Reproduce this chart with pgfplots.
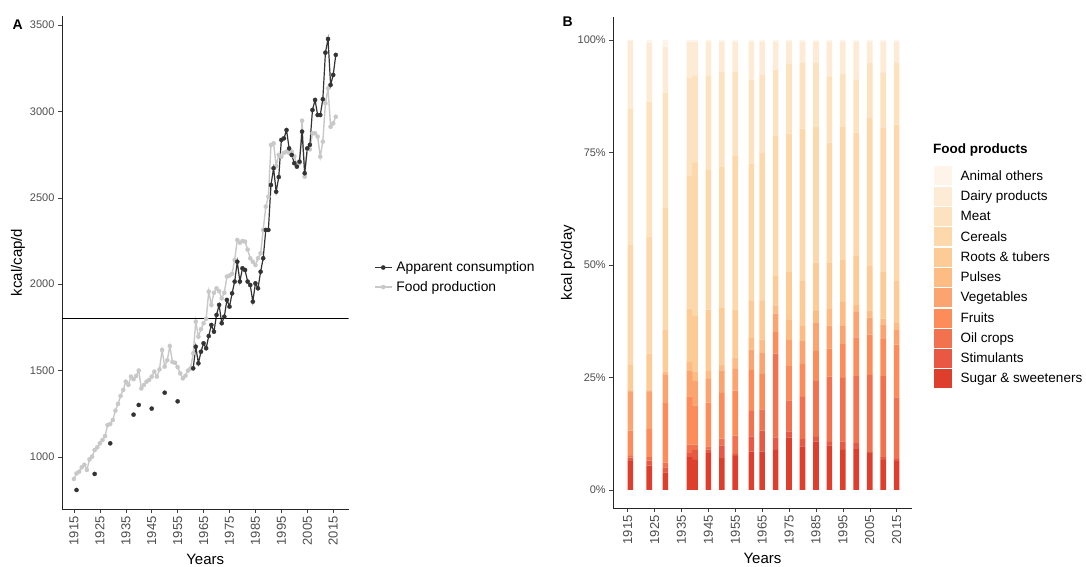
\documentclass[border=0pt]{standalone}
\usepackage{pgfplots}
\usepackage{pgfplotstable}
\pgfplotsset{compat=1.18}
\usepackage{fontspec}
\setmainfont{Liberation Sans}

\definecolor{tickgrey}{RGB}{77,77,77}
\definecolor{cons}{RGB}{51,51,51}
\definecolor{prod}{RGB}{200,200,200}
\definecolor{cA}{HTML}{FEF4E9}
\definecolor{cD}{HTML}{FDEBD6}
\definecolor{cM}{HTML}{FDE2C0}
\definecolor{cC}{HTML}{FDD8AA}
\definecolor{cR}{HTML}{FDCB95}
\definecolor{cP}{HTML}{FDBC83}
\definecolor{cV}{HTML}{FCA46F}
\definecolor{cF}{HTML}{FC8C59}
\definecolor{cO}{HTML}{F2714E}
\definecolor{cT}{HTML}{E85843}
\definecolor{cS}{HTML}{DE3F2C}

\pgfplotstableread{
year S T O F V P R C M D A
1916 6.4 0.8 0.4 5.6 8.6 0.5 5.6 26.7 30.2 15.0 0.2
1923 5.4 1.1 0.8 6.3 8.2 0.5 8.0 25.9 30.1 13.0 0.7
1929 3.9 1.1 1.1 13.2 6.3 0.7 9.4 27.1 25.5 10.1 1.6
1938 7.3 0.9 1.9 10.7 5.6 2.0 11.9 29.5 21.9 7.8 0.5
1940 6.7 2.2 1.2 8.7 5.4 2.1 12.4 34.0 19.3 7.6 0.4
1945 8.2 0.8 0.7 9.7 5.3 1.7 13.7 31.0 21.0 7.5 0.4
1950 7.1 2.8 1.5 10.2 5.0 1.3 12.5 31.5 21.0 6.7 0.4
1955 7.6 0.4 4.1 10.0 4.8 2.5 10.7 34.1 18.8 6.6 0.4
1961 8.5 3.4 5.7 9.1 4.5 2.6 8.2 30.5 18.7 8.4 0.4
1965 8.5 4.7 4.7 7.9 4.6 3.0 8.6 33.0 17.2 7.4 0.4
1970 8.9 2.8 18.6 4.8 4.1 1.8 6.7 31.1 14.6 6.2 0.4
1975 11.7 1.3 6.9 7.6 5.8 4.5 10.6 30.8 15.6 4.9 0.3
1980 9.7 1.6 9.4 7.3 5.1 3.3 10.0 33.9 14.7 4.6 0.4
1985 10.8 1.0 12.4 6.7 6.2 2.7 10.8 30.1 14.2 4.7 0.4
1990 9.9 0.8 14.5 6.2 5.1 3.7 10.4 26.6 14.6 7.8 0.4
1995 8.9 1.9 14.1 7.5 4.2 5.2 9.3 29.7 11.6 7.2 0.4
2000 9.1 1.3 14.9 8.6 5.7 1.5 10.9 27.4 11.7 8.5 0.4
2005 8.2 0.2 17.2 8.9 3.8 1.6 10.0 32.8 12.2 4.7 0.4
2010 6.7 0.6 18.0 8.2 3.3 1.3 10.3 32.0 12.3 6.9 0.4
2015 6.4 0.5 13.7 11.7 3.2 1.6 9.5 34.6 13.8 4.6 0.4
}\shares

\pgfplotstableread{
year v
1915 873
1916 905
1917 915
1918 940
1919 955
1920 925
1921 986
1922 1002
1923 1040
1924 1056
1925 1079
1926 1098
1927 1121
1928 1185
1929 1191
1930 1214
1931 1268
1932 1307
1933 1353
1934 1388
1935 1436
1936 1417
1937 1465
1938 1450
1939 1469
1940 1500
1941 1397
1942 1417
1943 1436
1944 1446
1945 1465
1946 1494
1947 1465
1948 1507
1949 1619
1950 1523
1951 1560
1952 1642
1953 1550
1954 1545
1955 1520
1956 1484
1957 1455
1958 1470
1959 1500
1960 1513
1961 1600
1962 1783
1963 1696
1964 1740
1965 1774
1966 1800
1967 1957
1968 1880
1969 1950
1970 1976
1971 1960
1972 1918
1973 1950
1974 2044
1975 2050
1976 2060
1977 2140
1978 2256
1979 2240
1980 2250
1981 2246
1982 2200
1983 2150
1984 2130
1985 2111
1986 2150
1987 2179
1988 2314
1989 2449
1990 2506
1991 2806
1992 2815
1993 2684
1994 2748
1995 2738
1996 2760
1997 2767
1998 2760
1999 2767
2000 2740
2001 2690
2002 2700
2003 2946
2004 2622
2005 2781
2006 2780
2007 2873
2008 2873
2009 2854
2010 2738
2011 2825
2012 3047
2013 3133
2014 2911
2015 2931
2016 2969
}\production

\pgfplotstableread{
year v
1961 1513
1962 1638
1963 1542
1964 1609
1965 1658
1966 1629
1967 1700
1968 1764
1969 1725
1970 1822
1971 1880
1972 1774
1973 1812
1974 1909
1975 1870
1976 1947
1977 2015
1978 2130
1979 2015
1980 2092
1981 2082
1982 2015
1983 1995
1984 1899
1985 2005
1986 1976
1987 2072
1988 2150
1989 2314
1990 2314
1991 2574
1992 2671
1993 2535
1994 2620
1995 2835
1996 2844
1997 2892
1998 2786
1999 2748
2000 2700
2001 2680
2002 2709
2003 2883
2004 2642
2005 2786
2006 2806
2007 3008
2008 3066
2009 2979
2010 2979
2011 3070
2012 3340
2013 3419
2014 3153
2015 3211
2016 3327
}\consumption

\pgfplotstableread{
year v
1916 809
1923 902
1929 1079
1938 1245
1940 1301
1945 1280
1950 1372
1955 1322
}\earlycons

\pgfplotsset{
  myaxis/.style={
    scale only axis,
    axis lines*=left,
    axis line style={-, draw=black!85, line width=0.6pt},
    tick align=outside,
    tick pos=left,
    major tick length=4pt,
    every tick/.style={draw=black!75, line width=0.5pt},
    /pgf/number format/assume math mode=true,
    /pgf/number format/1000 sep={},
    yticklabel style={font=\fontsize{11}{13}\selectfont, text=tickgrey},
    xticklabel style={font=\fontsize{13}{15}\selectfont, text=tickgrey, rotate=90, anchor=east},
    label style={font=\fontsize{15}{17}\selectfont},
    xtick={1915,1925,...,2015},
    minor tick num=0,
  },
  dotstyle/.style={mark=*, mark size=2.1pt, mark options={solid, line width=0.3pt, fill=#1, draw=#1}},
}

\begin{document}
\begin{tikzpicture}
\path[use as bounding box] (0,0) rectangle (1086pt,567pt);

% Panel A
\begin{axis}[myaxis,
  at={(62pt,58pt)}, anchor=south west,
  width=286.5pt, height=493pt,
  xmin=1910.4, xmax=2020.9,
  ymin=699, ymax=3552,
  ytick={1000,1500,...,3500},
  xlabel={Years}, ylabel={kcal/cap/d},
  xlabel style={at={(axis description cs:0.5,-0.102)}, anchor=center},
  ylabel style={at={(axis description cs:-0.1536,0.5)}, anchor=center},
  reverse legend,
  legend style={at={(1.078,0.47)}, anchor=west, draw=none, fill=none,
    font=\fontsize{13.8}{15}\selectfont, row sep=4pt,
    nodes={inner xsep=4pt}},
  legend cell align=left,
  legend image code/.code={\draw[mark repeat=2,mark phase=2,#1] plot coordinates {(0pt,0pt) (8.5pt,0pt) (17pt,0pt)};},
]
\addplot[prod, line width=1.4pt, dotstyle=prod] table[x=year,y=v] {\production};
\addlegendentry{Food production}
\addplot[cons, line width=1.2pt, dotstyle=cons] table[x=year,y=v] {\consumption};
\addlegendentry{Apparent consumption}
\addplot[cons, only marks, dotstyle=cons, forget plot] table[x=year,y=v] {\earlycons};
\addplot[black, line width=0.6pt, forget plot] coordinates {(1900,1800) (2030,1800)};
\end{axis}

% Panel B
\begin{axis}[myaxis,
  at={(613.3pt,59pt)}, anchor=south west,
  width=298.4pt, height=491pt,
  xmin=1909.65, xmax=2020.6,
  ymin=-4.0, ymax=105.1,
  ytick={0,25,50,75,100},
  yticklabels={0\%,25\%,50\%,75\%,100\%},
  ybar stacked, bar width=2.1,
  xlabel={Years}, ylabel={kcal pc/day},
  xlabel style={at={(axis description cs:0.5,-0.103)}, anchor=center},
  ylabel style={at={(axis description cs:-0.152,0.5)}, anchor=center},
  reverse legend,
  legend style={at={(1.063,0.7)}, anchor=north west, draw=none, fill=none,
    font=\fontsize{13.5}{15}\selectfont, row sep=1.3pt, column sep=5pt,
    nodes={inner xsep=4pt}},
  legend cell align=left,
  legend image code/.code={\fill[#1] (0pt,-9.5pt) rectangle (18pt,9.5pt);},
]
\addplot[fill=cS, draw=none] table[x=year,y=S] {\shares}; \addlegendentry{Sugar \& sweeteners}
\addplot[fill=cT, draw=none] table[x=year,y=T] {\shares}; \addlegendentry{Stimulants}
\addplot[fill=cO, draw=none] table[x=year,y=O] {\shares}; \addlegendentry{Oil crops}
\addplot[fill=cF, draw=none] table[x=year,y=F] {\shares}; \addlegendentry{Fruits}
\addplot[fill=cV, draw=none] table[x=year,y=V] {\shares}; \addlegendentry{Vegetables}
\addplot[fill=cP, draw=none] table[x=year,y=P] {\shares}; \addlegendentry{Pulses}
\addplot[fill=cR, draw=none] table[x=year,y=R] {\shares}; \addlegendentry{Roots \& tubers}
\addplot[fill=cC, draw=none] table[x=year,y=C] {\shares}; \addlegendentry{Cereals}
\addplot[fill=cM, draw=none] table[x=year,y=M] {\shares}; \addlegendentry{Meat}
\addplot[fill=cD, draw=none] table[x=year,y=D] {\shares}; \addlegendentry{Dairy products}
\addplot[fill=cA, draw=none] table[x=year,y=A] {\shares}; \addlegendentry{Animal others}
\end{axis}

\node[anchor=west, font=\bfseries\fontsize{13.5}{15}\selectfont, inner sep=0pt] at (933pt,417pt) {Food products};
\node[anchor=west, font=\bfseries\fontsize{14}{16}\selectfont] at (9pt,542pt) {A};
\node[anchor=west, font=\bfseries\fontsize{14}{16}\selectfont] at (559pt,545pt) {B};
\end{tikzpicture}
\end{document}
